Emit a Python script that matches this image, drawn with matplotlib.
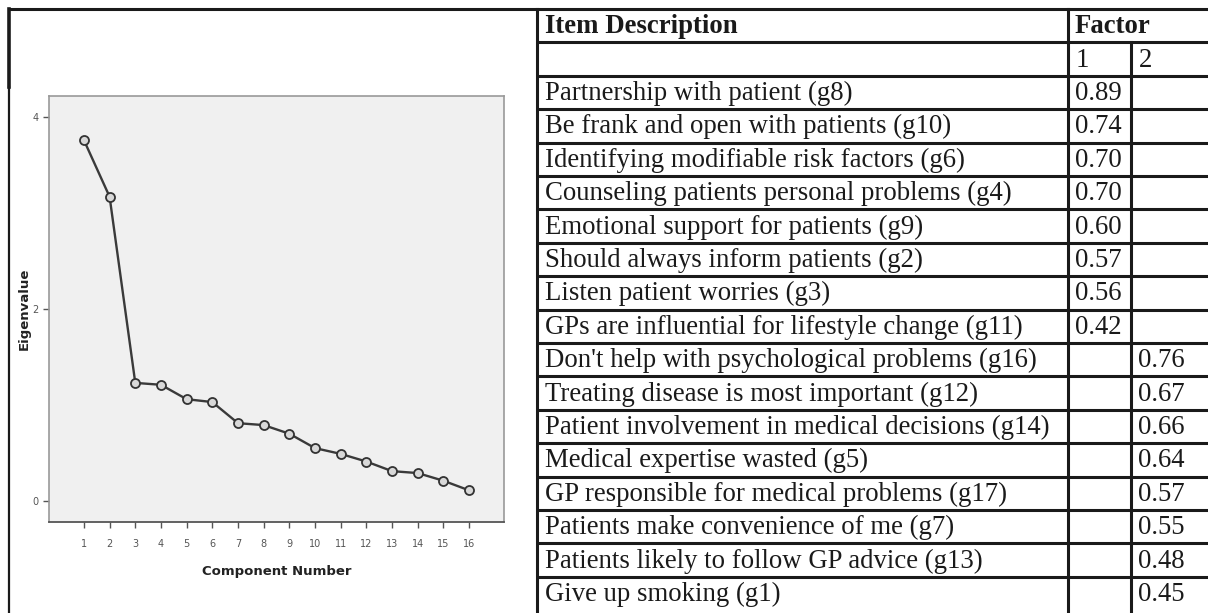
import matplotlib.pyplot as plt
import numpy as np

# scree plot data
components = np.arange(1, 17)
eigenvalues = [3.76, 3.17, 1.23, 1.21, 1.06, 1.03, 0.81, 0.79,
               0.70, 0.55, 0.49, 0.41, 0.31, 0.29, 0.21, 0.11]

# factor loading table
items = [
    "Partnership with patient (g8)",
    "Be frank and open with patients (g10)",
    "Identifying modifiable risk factors (g6)",
    "Counseling patients personal problems (g4)",
    "Emotional support for patients (g9)",
    "Should always inform patients (g2)",
    "Listen patient worries (g3)",
    "GPs are influential for lifestyle change (g11)",
    "Don't help with psychological problems (g16)",
    "Treating disease is most important (g12)",
    "Patient involvement in medical decisions (g14)",
    "Medical expertise wasted (g5)",
    "GP responsible for medical problems (g17)",
    "Patients make convenience of me (g7)",
    "Patients likely to follow GP advice (g13)",
    "Give up smoking (g1)",
]
factor1 = ["0.89", "0.74", "0.70", "0.70", "0.60", "0.57", "0.56", "0.42",
           "", "", "", "", "", "", "", ""]
factor2 = ["", "", "", "", "", "", "", "",
           "0.76", "0.67", "0.66", "0.64", "0.57", "0.55", "0.48", "0.45"]

W, H = 1208, 613
fig = plt.figure(figsize=(W / 100, H / 100), dpi=100)

# full-figure overlay in pixel coordinates for the table and frames
bg = fig.add_axes([0, 0, 1, 1])
bg.set_xlim(0, W)
bg.set_ylim(H, 0)
bg.axis("off")

lw = 2.2
ink = "#1a1a1a"
serif = "Liberation Serif"
fs = 19.3

tab_left, col1, col2, tab_right = 537, 1068, 1131, W
top = 9
row_h = 33.4
n_rows = len(items) + 2
row_lines = [top + i * row_h for i in range(n_rows)]

# outer frame of left panel
bg.plot([9, W], [top, top], color=ink, lw=lw, solid_capstyle="butt")
bg.plot([9, 9], [top, 87], color=ink, lw=lw + 0.4)
bg.plot([9, 9], [87, H], color=ink, lw=lw - 0.6)
bg.plot([tab_left, tab_left], [top, H], color=ink, lw=lw)

# table grid
for y in row_lines[1:]:
    bg.plot([tab_left, tab_right], [y, y], color=ink, lw=lw, solid_capstyle="butt")
bg.plot([col1, col1], [top, H], color=ink, lw=lw)
bg.plot([col2, col2], [row_lines[1], H], color=ink, lw=lw)

# header
yc = top + row_h / 2 + 1
bg.text(tab_left + 8, yc, "Item Description", fontfamily=serif, fontsize=fs,
        fontweight="bold", va="center", ha="left", color=ink)
bg.text(col1 + 7, yc, "Factor", fontfamily=serif, fontsize=fs,
        fontweight="bold", va="center", ha="left", color=ink)
yc = row_lines[1] + row_h / 2 + 1
bg.text(col1 + 8, yc, "1", fontfamily=serif, fontsize=fs, va="center", color=ink)
bg.text(col2 + 8, yc, "2", fontfamily=serif, fontsize=fs, va="center", color=ink)

for i, (name, f1, f2) in enumerate(zip(items, factor1, factor2)):
    yc = row_lines[2] + (i + 0.5) * row_h + 1
    bg.text(tab_left + 8, yc, name, fontfamily=serif, fontsize=fs, va="center", color=ink)
    bg.text(col1 + 7, yc, f1, fontfamily=serif, fontsize=fs, va="center", color=ink)
    bg.text(col2 + 7, yc, f2, fontfamily=serif, fontsize=fs, va="center", color=ink)

# scree plot
ax = fig.add_axes([49 / W, 1 - 522 / H, 455 / W, 426 / H])
ax.set_facecolor("#f0f0f0")
ax.plot(components, eigenvalues, color="#3a3a3a", lw=1.7, marker="o",
        markersize=6.5, markerfacecolor="#d8d8d8", markeredgecolor="#333333",
        markeredgewidth=1.3)
ax.set_xlim(-0.36, 17.36)
ax.set_ylim(-0.22, 4.22)
ax.set_xticks(components)
ax.set_yticks([0, 2, 4])
ax.tick_params(axis="both", labelsize=7, colors="#555555", length=4, width=1)
ax.tick_params(axis="x", pad=8)
for side in ["top", "right", "left"]:
    ax.spines[side].set_color("#999999")
    ax.spines[side].set_linewidth(1.2)
ax.spines["bottom"].set_color("#555555")
ax.spines["bottom"].set_linewidth(1.3)
ax.set_xlabel("Component Number", fontsize=9.5, fontweight="bold", color="#222222", labelpad=12)
ax.set_ylabel("Eigenvalue", fontsize=9.5, fontweight="bold", color="#222222", labelpad=1)

fig.savefig("out.png", dpi=100)
